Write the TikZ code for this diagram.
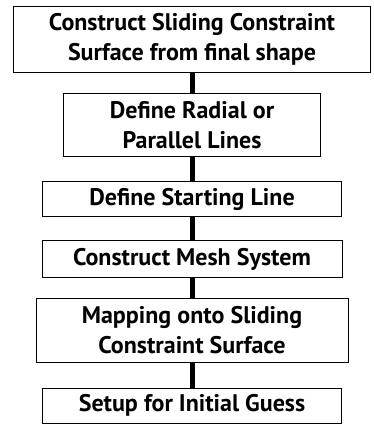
\documentclass[tikz,border=0pt]{standalone}
\usepackage{fontspec}
\setmainfont{PT Sans}
\usepackage{tikz}
\usetikzlibrary{positioning}
\tikzstyle{stepbox}=[draw,%
                       rectangle,%
                       line width=0.8pt,%
                       align=center,%
                       inner sep=0pt,%
                       font=\fontsize{24}{30}\selectfont\bfseries]
\tikzstyle{link}=[line width=5pt]

\begin{document}
\begin{tikzpicture}[x=1pt,y=1pt]
            \useasboundingbox (0,0) rectangle (374,-425);
            \node[stepbox,minimum width=357pt,minimum height=66pt] (a) at (192,-39) {Construct Sliding Constraint\\Surface from final shape};
            \node[stepbox,minimum width=257pt,minimum height=63pt][below=21pt of a] (b) {Define Radial or\\Parallel Lines};
            \node[stepbox,minimum width=299pt,minimum height=35pt][below=24pt of b] (c) {Define Starting Line};
            \node[stepbox,minimum width=300pt,minimum height=37pt][below=23pt of c] (d) {Construct Mesh System};
            \node[stepbox,minimum width=312pt,minimum height=64pt][below=20pt of d] (e) {Mapping onto Sliding\\Constraint Surface};
            \node[stepbox,minimum width=299pt,minimum height=35pt][below=25pt of e] (f) {Setup for Initial Guess};
            \draw [link] (a.south) -- (b.north);
            \draw [link] (b.south) -- (c.north);
            \draw [link] (c.south) -- (d.north);
            \draw [link] (d.south) -- (e.north);
            \draw [link] (e.south) -- (f.north);
  \end{tikzpicture}
\end{document}
